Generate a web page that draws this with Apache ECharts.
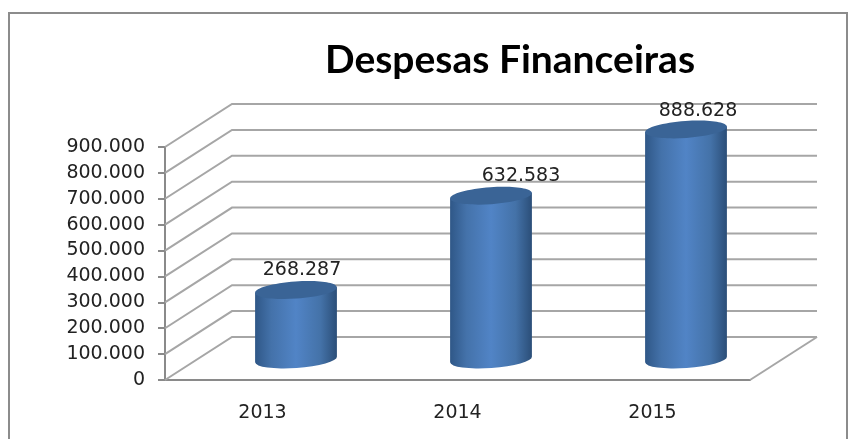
<!DOCTYPE html>
<html>
<head>
<meta charset="utf-8">
<style>
  html, body { margin: 0; padding: 0; background: #fff; }
  #main { width: 862px; height: 439px; }
</style>
<script src="https://cdn.jsdelivr.net/npm/echarts@6/dist/echarts.min.js"></script>
</head>
<body>
<div id="main"></div>
<script>
var titleText = 'Despesas Financeiras';
var years = ['2013', '2014', '2015'];
var expenses = [268287, 632583, 888628];
var wallTicks = [0, 100000, 200000, 300000, 400000, 500000, 600000, 700000, 800000, 900000];

// fake 3d: how far the back wall is pushed from the front plane
var depthX = 67;
var depthY = -43;
var radiusX = 41;
var radiusY = 8.5;
var tilt = -4;

function ptBr(v) {
  return String(v).replace(/\B(?=(\d{3})+$)/g, '.');
}

function renderWall(params, api) {
  var y = api.coord([0, api.value(0)])[1];
  var rect = params.coordSys;
  return {
    type: 'polyline',
    shape: { points: [
      [rect.x, y],
      [rect.x + depthX, y + depthY],
      [rect.x + rect.width + depthX, y + depthY]
    ] },
    style: { stroke: '#a6a6a6', lineWidth: 2, fill: null }
  };
}

function renderFloorEdge(params) {
  var rect = params.coordSys;
  var bottom = rect.y + rect.height;
  var right = rect.x + rect.width;
  return {
    type: 'line',
    shape: { x1: right, y1: bottom, x2: right + depthX, y2: bottom + depthY },
    style: { stroke: '#a6a6a6', lineWidth: 2 }
  };
}

// each label sits a bit off its cylinder in the original
var labelShift = [[6, -20], [30, -20], [12, -18]];

function renderCylinder(params, api) {
  var i = api.value(0);
  var top = api.coord([i, api.value(1)]);
  var base = api.coord([i, 0]);
  var cx = top[0] + depthX / 2;
  var topY = top[1] + depthY / 2 + 1;
  var baseY = base[1] + depthY / 2 + 1;
  var dy = radiusX * Math.sin(tilt * Math.PI / 180);
  var dx = radiusX * Math.cos(tilt * Math.PI / 180);
  var d = 'M' + (cx - dx) + ' ' + (topY - dy) +
    ' L' + (cx - dx) + ' ' + (baseY - dy) +
    ' A' + radiusX + ' ' + radiusY + ' ' + tilt + ' 0 0 ' + (cx + dx) + ' ' + (baseY + dy) +
    ' L' + (cx + dx) + ' ' + (topY + dy) + ' Z';
  return {
    type: 'group',
    children: [{
      type: 'path',
      shape: { pathData: d },
      style: {
        fill: new echarts.graphic.LinearGradient(0, 0, 1, 0, [
          { offset: 0, color: '#2f5787' },
          { offset: 0.2, color: '#4472aa' },
          { offset: 0.5, color: '#5184c6' },
          { offset: 0.8, color: '#4472a8' },
          { offset: 1, color: '#2b4e78' }
        ])
      }
    }, {
      type: 'ellipse',
      shape: { cx: 0, cy: 0, rx: radiusX, ry: radiusY },
      x: cx,
      y: topY,
      rotation: -tilt * Math.PI / 180,
      style: { fill: '#3a6496' }
    }, {
      type: 'text',
      x: cx + labelShift[i][0],
      y: topY + labelShift[i][1],
      style: {
        text: ptBr(api.value(1)),
        fill: '#222',
        font: '19px "DejaVu Sans"',
        align: 'center',
        verticalAlign: 'middle'
      }
    }]
  };
}

var chart = echarts.init(document.getElementById('main'), null, { renderer: 'canvas' });
chart.setOption({
  animation: false,
  backgroundColor: '#fff',
  title: {
    text: titleText,
    left: 505,
    top: 36,
    textAlign: 'center',
    textStyle: { fontFamily: 'Lato', fontWeight: 'bold', fontSize: 39, color: '#000' }
  },
  graphic: [{
    type: 'rect',
    shape: { x: 9, y: 13, width: 838, height: 450 },
    style: { fill: null, stroke: '#8c8c8c', lineWidth: 2 },
    silent: true
  }],
  grid: { left: 165, right: 112, top: 147, bottom: 59 },
  xAxis: {
    type: 'category',
    data: years,
    axisLine: { lineStyle: { color: '#8a8a8a', width: 2 } },
    axisTick: { length: 7, lineStyle: { color: '#8a8a8a', width: 2 } },
    axisLabel: { color: '#222', fontFamily: 'DejaVu Sans', fontSize: 19, margin: 24 }
  },
  yAxis: {
    type: 'value',
    min: 0,
    max: 900000,
    interval: 100000,
    splitLine: { show: false },
    axisLine: { show: true, lineStyle: { color: '#8a8a8a', width: 2 } },
    axisTick: { show: true, length: 7, lineStyle: { color: '#8a8a8a', width: 2 } },
    axisLabel: { color: '#222', fontFamily: 'DejaVu Sans', fontSize: 19, margin: 20, padding: [4, 0, 0, 0], formatter: ptBr }
  },
  series: [{
    type: 'custom',
    renderItem: renderWall,
    encode: { y: 0 },
    data: wallTicks,
    silent: true,
    z: 1
  }, {
    type: 'custom',
    renderItem: renderFloorEdge,
    data: [0],
    silent: true,
    z: 1
  }, {
    type: 'custom',
    renderItem: renderCylinder,
    encode: { x: 0, y: 1 },
    data: expenses.map(function (v, i) { return [i, v]; }),
    z: 3
  }]
});
</script>
</body>
</html>
